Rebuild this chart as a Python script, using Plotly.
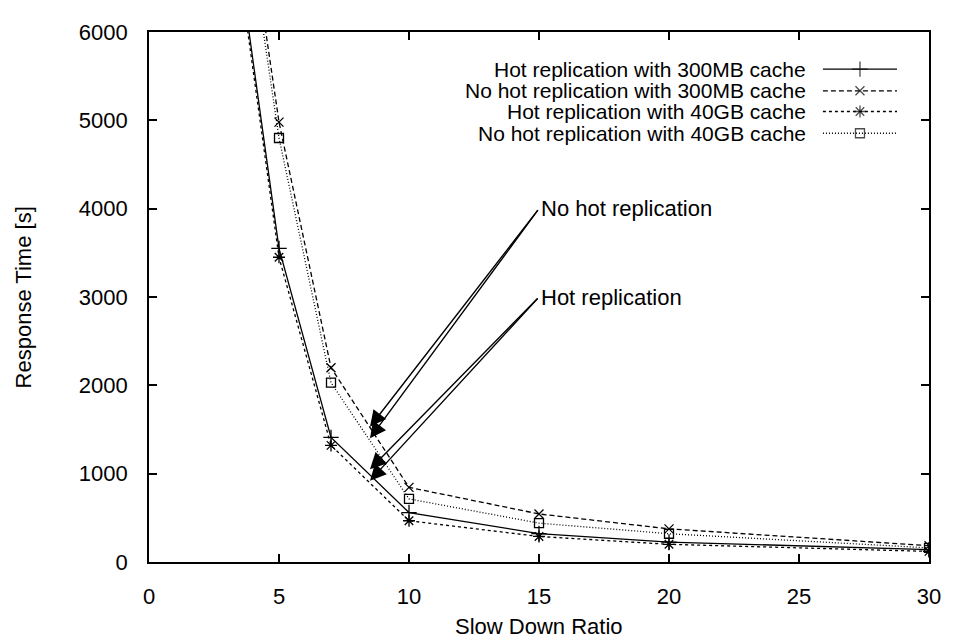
import plotly.graph_objects as go

# ---- data ----
slow_down_ratio = [3, 5, 7, 10, 15, 20, 30]
hot_300mb = [7800, 3550, 1410, 560, 322, 226, 140]
nohot_300mb = [9000, 4980, 2200, 845, 544, 375, 185]
hot_40gb = [7700, 3450, 1320, 467, 289, 200, 120]
nohot_40gb = [8800, 4800, 2030, 714, 440, 320, 160]

series_names = [
    "Hot replication with 300MB cache",
    "No hot replication with 300MB cache",
    "Hot replication with 40GB cache",
    "No hot replication with 40GB cache",
]
series_values = [hot_300mb, nohot_300mb, hot_40gb, nohot_40gb]
series_dash = ["solid", "5px,3px", "3px,3px", "1px,2px"]
series_symbol = ["cross-thin-open", "x-thin-open", "asterisk-open", "square-open"]
series_msize = [11, 9, 10, 9]

x_ticks = [0, 5, 10, 15, 20, 25, 30]
y_ticks = [0, 1000, 2000, 3000, 4000, 5000, 6000]

# annotation arrows: (label, tail x, tail y, [(head x, head y), ...])
arrow_groups = [
    ("No hot replication", 15, 4000, [(8.5, 1530), (8.5, 1400)]),
    ("Hot replication", 15, 3000, [(8.5, 1050), (8.5, 920)]),
]

FONT = "Liberation Sans, Arial, Helvetica, sans-serif"
FS = 22
FS_LEG = 21

fig = go.Figure()
for name, vals, dash, sym, ms in zip(series_names, series_values, series_dash,
                                      series_symbol, series_msize):
    fig.add_trace(go.Scatter(
        x=slow_down_ratio, y=vals, mode="lines+markers", name=name,
        line=dict(color="black", width=1.3, dash=dash),
        marker=dict(symbol=sym, size=ms, color="black",
                    line=dict(color="black", width=1.3)),
        showlegend=False, cliponaxis=True,
    ))

# custom legend: text right-aligned, sample on the right (gnuplot style)
leg_rows_y = [0.930, 0.889, 0.850, 0.809]
leg_x0, leg_x1, leg_text_x = 0.864, 0.959, 0.843
for name, dash, sym, ms, ry in zip(series_names, series_dash, series_symbol,
                                   series_msize, leg_rows_y):
    fig.add_trace(go.Scatter(
        x=[leg_x0, (leg_x0 + leg_x1) / 2, leg_x1], y=[ry, ry, ry],
        xaxis="x2", yaxis="y2", mode="lines+markers",
        line=dict(color="black", width=1.3, dash=dash),
        marker=dict(symbol=sym, size=[0, ms, 0], color="black",
                    line=dict(color="black", width=1.3)),
        showlegend=False, hoverinfo="skip",
    ))
    fig.add_annotation(x=leg_text_x, y=ry, xref="paper", yref="paper",
                       text=name, showarrow=False, xanchor="right",
                       yanchor="middle", borderpad=0,
                       font=dict(family=FONT, size=FS_LEG, color="black"))

for label, tx, ty, heads in arrow_groups:
    for hx, hy in heads:
        fig.add_annotation(x=hx, y=hy, ax=tx, ay=ty, xref="x", yref="y",
                           axref="x", ayref="y", text="", showarrow=True,
                           arrowhead=2, arrowsize=2.3, arrowwidth=1.4,
                           arrowcolor="black", standoff=0, startstandoff=0)
    fig.add_annotation(x=tx, y=ty, xref="x", yref="y", text=label,
                       showarrow=False, xanchor="left", yanchor="middle",
                       font=dict(family=FONT, size=FS, color="black"))

# axis titles
fig.add_annotation(x=0.5, y=-0.122, xref="paper", yref="paper",
                   text="Slow Down Ratio", showarrow=False,
                   xanchor="center", yanchor="middle",
                   font=dict(family=FONT, size=FS, color="black"))
fig.add_annotation(x=-0.161, y=0.5, xref="paper", yref="paper",
                   text="Response Time [s]", showarrow=False, textangle=-90,
                   xanchor="center", yanchor="middle",
                   font=dict(family=FONT, size=FS, color="black"))

axis_common = dict(showgrid=False, zeroline=False, showline=True,
                   linecolor="black", linewidth=1.6, mirror="ticks",
                   ticks="inside", ticklen=8, tickwidth=1.6, tickcolor="black",
                   tickfont=dict(family=FONT, size=FS, color="black"))

# page body has an 8px margin, so the figure is sized to fit the window
fig.update_layout(
    width=945, height=636,
    margin=dict(l=141, r=16, t=14, b=82),
    plot_bgcolor="white", paper_bgcolor="white",
    xaxis=dict(range=[0, 30], tickvals=x_ticks, ticklabelstandoff=14,
               **axis_common),
    yaxis=dict(range=[0, 6000], tickvals=y_ticks, ticklabelstandoff=15,
               **axis_common),
    xaxis2=dict(range=[0, 1], overlaying="x", visible=False, fixedrange=True),
    yaxis2=dict(range=[0, 1], overlaying="y", visible=False, fixedrange=True),
    font=dict(family=FONT, size=FS, color="black"),
)

fig.write_html("out.html")
